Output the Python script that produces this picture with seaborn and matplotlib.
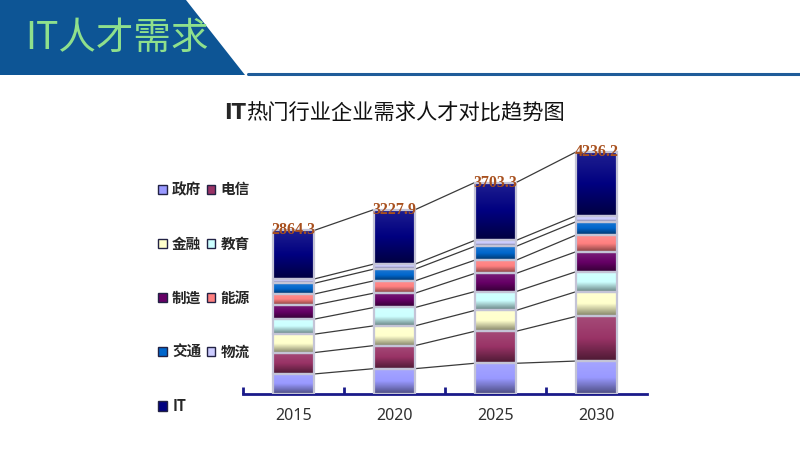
import numpy as np
import pandas as pd
import matplotlib
matplotlib.use('Agg')
import matplotlib.pyplot as plt
import seaborn as sns
from matplotlib.patches import Polygon, Patch
from matplotlib.lines import Line2D
from matplotlib.colors import LinearSegmentedColormap, to_rgb
from matplotlib.ticker import FixedLocator

# data
years = ['2015', '2020', '2025', '2030']
totals = [2864.3, 3227.9, 3703.3, 4236.2]
sectors = ['政府', '电信', '金融', '教育', '制造', '能源', '交通', '物流', 'IT']
gov = [351, 444, 538, 577]
telecom = [374, 404, 561, 781]
finance = [322, 346, 365, 432]
education = [264, 321, 330, 350]
manufacturing = [246, 251, 318, 350]
energy = [193, 216, 231, 292]
transport = [188, 205, 243, 233]
logistics = [76, 88, 104, 105]
it = [850.3, 952.9, 1013.3, 1116.2]
values = [gov, telecom, finance, education, manufacturing, energy, transport, logistics, it]
colors = ['#9999FF', '#993366', '#FFFFCC', '#CCFFFF', '#660066',
          '#FF8080', '#0066CC', '#CCCCFF', '#000080']

sns.set_theme(style='white')
plt.rcParams['font.family'] = ['Noto Sans CJK SC', 'DejaVu Sans']

fig = plt.figure(figsize=(8, 4.5), dpi=100)

# header band
fig.add_artist(Polygon([[0, 1], [186/800, 1], [245/800, 1-75/450], [0, 1-75/450]],
                       closed=True, transform=fig.transFigure, facecolor='#0d5595',
                       edgecolor='none'))
fig.add_artist(Line2D([248/800, 1], [1-74/450, 1-74/450], transform=fig.transFigure,
                      color='#1f5c99', lw=2.2))
fig.text(25/800, 1-38/450, 'IT人才需求', color='#8fe08c', fontsize=27,
         ha='left', va='center')

# chart title
fig.text(246/800, 1-113/450, 'IT', fontsize=15, weight='bold', ha='right', va='center',
         family=['DejaVu Sans'])
fig.text(246/800, 1-113/450, '热门行业企业需求人才对比趋势图', fontsize=15.3,
         ha='left', va='center', color='#111111')

ax = fig.add_axes([243/800, 56/450, 404/800, 257/450])

bottoms = np.zeros(len(years))
containers = []
for name, vals, col in zip(sectors, values, colors):
    sns.barplot(x=years, y=vals, color=col, width=0.41, bottom=bottoms.copy(),
                saturation=1, errorbar=None, ax=ax)
    containers.append(ax.containers[-1])
    bottoms += np.array(vals, dtype=float)

# gradient fill inside each segment
grad = np.linspace(0, 1, 64).reshape(-1, 1)
for cont, col in zip(containers, colors):
    base = np.array(to_rgb(col))
    cmap = LinearSegmentedColormap.from_list('g', [base * 0.5, base, base + (1 - base) * 0.12])
    for p in cont.patches:
        x0, y0, w, h = p.get_x(), p.get_y(), p.get_width(), p.get_height()
        ax.imshow(grad, extent=[x0, x0 + w, y0, y0 + h], cmap=cmap, aspect='auto',
                  origin='lower', zorder=2, interpolation='bilinear')
        p.set_facecolor('none')
        p.set_edgecolor('#c4c4d6')
        p.set_linewidth(1.6)
        p.set_zorder(3)

# connecting lines between the segment tops
for cont in containers:
    ps = cont.patches
    for a, b in zip(ps[:-1], ps[1:]):
        ax.plot([a.get_x() + a.get_width(), b.get_x()],
                [a.get_y() + a.get_height(), b.get_y() + b.get_height()],
                color='#3a3a3a', lw=0.9, zorder=1)

# total labels
for p, tot in zip(containers[-1].patches, totals):
    ax.text(p.get_x() + p.get_width() / 2, p.get_y() + p.get_height(), f'{tot:.1f}',
            ha='center', va='center', color='#a8501e', fontsize=11.5, weight='bold',
            family=['Liberation Serif'], zorder=5)

ax.set_xlim(-0.5, len(years) - 0.5)
ax.set_ylim(0, 4500)
ax.set_xlabel('')
ax.set_ylabel('')
ax.set_yticks([])
for s in ['left', 'right', 'top']:
    ax.spines[s].set_visible(False)
ax.spines['bottom'].set_color('#1a1a8a')
ax.spines['bottom'].set_linewidth(2)
ax.xaxis.set_minor_locator(FixedLocator(np.arange(-0.5, len(years) - 1, 1)))
ax.tick_params(axis='x', which='major', length=0, pad=10, labelsize=11.5,
               labelcolor='#303030')
ax.tick_params(axis='x', which='minor', direction='in', length=5, width=2,
               color='#1a1a8a', bottom=True)
for t in ax.get_xticklabels():
    t.set_family(['Noto Sans', 'DejaVu Sans'])
ax.patch.set_alpha(0)

# legend, rows: 政府 电信 / 金融 教育 / 制造 能源 / 交通 物流 / IT
handles = [Patch(facecolor=c, edgecolor='#222244', linewidth=1) for c in colors]
order = [0, 2, 4, 6, 8, 1, 3, 5, 7]
fig.legend([handles[i] for i in order], [sectors[i] for i in order],
           loc='upper left', bbox_to_anchor=(151/800, 1-174/450), ncol=2,
           frameon=False, handlelength=0.6, handleheight=0.6, handletextpad=0.35,
           columnspacing=0.35, labelspacing=2.62, borderpad=0,
           prop={'family': ['Noto Sans CJK SC'], 'weight': 'bold', 'size': 10.5})

fig.savefig('out.png', dpi=100)
